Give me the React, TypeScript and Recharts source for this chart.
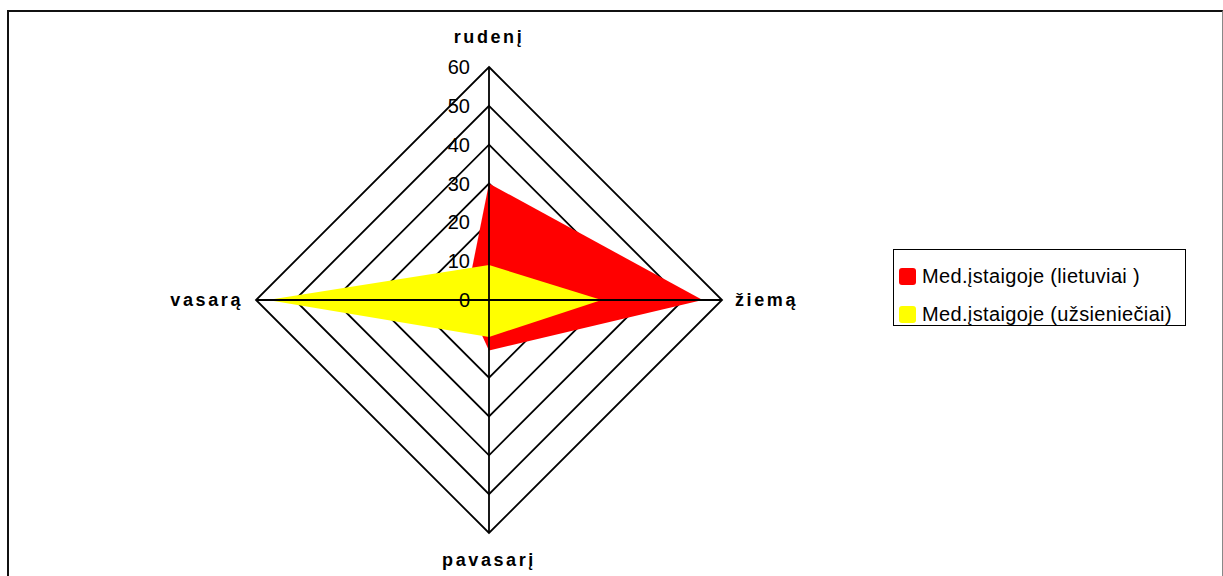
import { RadarChart, Radar, PolarGrid, PolarAngleAxis, PolarRadiusAxis, Legend } from 'recharts'

const seasons = ['rudenį', 'žiemą', 'pavasarį', 'vasarą']
const lietuviai = [30, 55, 13, 6]
const uzsienieciai = [9, 29, 9.5, 57]
const radiusTicks = [0, 10, 20, 30, 40, 50, 60]
const seriesNames = ['Med.įstaigoje (lietuviai )', 'Med.įstaigoje (užsieniečiai)']
const seriesColors = ['#FF0000', '#FFFF00']

const data = seasons.map((s, i) => ({
  season: s,
  lt: lietuviai[i],
  foreign: uzsienieciai[i],
}))

const CX = 489
const CY = 300
const R = 233
const W = 1223
const H = 576
const font = '"Liberation Sans", Arial, sans-serif'
const gridStroke = { stroke: '#000', strokeWidth: 1.8 }

function AngleTick(props: any) {
  const { x, y, payload, textAnchor } = props
  let dx = 0
  let dy = 0
  if (textAnchor === 'middle') dy = y < CY ? -22 : 19
  else dx = textAnchor === 'start' ? 5 : -5
  return (
    <text
      x={x + dx}
      y={y + dy}
      textAnchor={textAnchor}
      dominantBaseline="central"
      fontFamily={font}
      fontWeight="bold"
      fontSize={18}
      letterSpacing={2.6}
      fill="#000"
    >
      {payload.value}
    </text>
  )
}

function RadiusTick(props: any) {
  const { x, y, payload } = props
  return (
    <text x={x - 19} y={y} textAnchor="end" dominantBaseline="central" fontFamily={font} fontSize={20} fill="#000">
      {payload.value}
    </text>
  )
}

function LegendBox() {
  return (
    <div
      style={{
        width: 293,
        height: 77,
        border: '1.5px solid #000',
        fontFamily: font,
        fontSize: 20,
        letterSpacing: 0.35,
        boxSizing: 'border-box',
        paddingTop: 7,
        paddingLeft: 5,
        background: '#fff',
      }}
    >
      {seriesNames.map((n, i) => (
        <div key={n} style={{ display: 'flex', alignItems: 'center', height: 38 }}>
          <span
            style={{
              display: 'inline-block',
              width: 17,
              height: 17,
              borderRadius: 3,
              background: seriesColors[i],
              marginRight: 6,
            }}
          />
          <span style={{ whiteSpace: 'nowrap' }}>{n}</span>
        </div>
      ))}
    </div>
  )
}

export default function App() {
  const common = { width: W, height: H, data, cx: CX, cy: CY, outerRadius: R, margin: { top: 0, right: 0, bottom: 0, left: 0 } }
  return (
    <div style={{ position: 'absolute', left: 0, top: 0, width: W, height: H, overflow: 'hidden', background: '#fff' }}>
      <div
        style={{
          position: 'absolute',
          left: 7,
          top: 10,
          width: 1213,
          height: 620,
          borderTop: '2px solid #111',
          borderLeft: '2px solid #111',
          borderRight: '1px solid #888',
        }}
      />
      {/* base chart: rings, filled series, labels */}
      <div style={{ position: 'absolute', left: 0, top: 0 }}>
        <RadarChart {...common}>
          <PolarGrid gridType="polygon" radialLines={false} {...gridStroke} strokeOpacity={1} />
          <Radar dataKey="lt" name={seriesNames[0]} fill={seriesColors[0]} fillOpacity={1} stroke="none" isAnimationActive={false} />
          <Radar dataKey="foreign" name={seriesNames[1]} fill={seriesColors[1]} fillOpacity={1} stroke="none" isAnimationActive={false} />
          <PolarAngleAxis dataKey="season" tick={<AngleTick />} tickLine={false} axisLine={false} />
          <PolarRadiusAxis
            angle={90}
            domain={[0, 60]}
            ticks={radiusTicks}
            tickCount={7}
            tick={<RadiusTick />}
            axisLine={false}
            tickLine={false}
          />
          <Legend
            content={<LegendBox />}
            wrapperStyle={{ position: 'absolute', left: 893, top: 249, width: 293, height: 77 }}
          />
        </RadarChart>
      </div>
      {/* overlay: spokes drawn above the fills */}
      <div style={{ position: 'absolute', left: 0, top: 0, pointerEvents: 'none' }}>
        <RadarChart {...common}>
          <PolarGrid gridType="polygon" polarRadius={[0]} {...gridStroke} strokeOpacity={1} />
          <PolarAngleAxis dataKey="season" tick={false} tickLine={false} axisLine={false} />
        </RadarChart>
      </div>
    </div>
  )
}
